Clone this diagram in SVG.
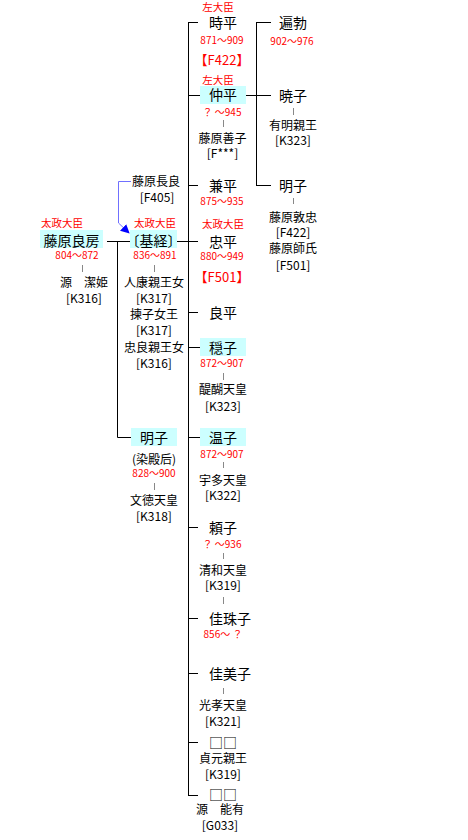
<svg xmlns="http://www.w3.org/2000/svg" width="468" height="840" viewBox="0 0 468 840">
<style>
text{font-family:"Noto Sans CJK JP","Noto Sans",sans-serif;}
.n{font-size:14px;fill:#000;}
.s{font-size:12px;fill:#000;text-anchor:middle;}
.r{font-size:10px;fill:#ff0000;text-anchor:middle;}
.t{font-size:10.5px;fill:#ff0000;text-anchor:middle;}
.f{font-size:13px;fill:#ff0000;text-anchor:middle;}
.c{text-anchor:middle;}
.box{fill:#ccffff;}
.ln{stroke:#000;stroke-width:1;fill:none;}
.g{stroke:#888;stroke-width:1;fill:none;}
</style>
<defs>
<marker id="ah" viewBox="0 0 10 10" refX="9" refY="5" markerWidth="9" markerHeight="9" markerUnits="userSpaceOnUse" orient="auto">
<path d="M0,0 L10,5 L0,10 z" fill="#0000ff"/>
</marker>
</defs>
<rect width="468" height="840" fill="#fff"/>
<g id="connectors">
<path class="ln" d="M188.5,22.5 V795.5"/>
<path class="ln" d="M188,22.5 H198 M188,95.5 H200 M188,185.5 H198 M177,241.5 H198 M188,312.5 H198 M188,347.5 H200 M188,437.5 H200 M188,527.5 H198 M188,618.5 H198 M188,673.5 H198 M188,742.5 H198 M188,795.5 H198"/>
<path class="ln" d="M256.5,22.5 V185.5 M256,22.5 H271 M246,95.5 H271 M256,185.5 H271"/>
<path class="ln" d="M107,241.5 H130 M117.5,241.5 V437.5 H131"/>
<path d="M131,181.5 H118.5 V223 L129,233" fill="none" stroke="#7070ff" stroke-width="1" marker-end="url(#ah)"/>
<path class="g" d="M82.5,265 V272 M154.5,265 V272 M154.5,483 V490 M223.5,120 V127 M223.5,373 V380 M223.5,462 V468 M223.5,553 V559 M223.5,597 V604 M223.5,688 V694 M293.5,108 V115 M293.5,198 V204"/>
</g>
<g id="tokihira">
<text class="t" x="218" y="11">左大臣</text>
<text class="n" x="209" y="28">時平</text>
<text class="r" x="222" y="44">871～909</text>
<text class="f" x="222" y="65">【F422】</text>
</g>
<g id="atsutada">
<text class="n" x="279" y="28">遍勃</text>
<text class="r" x="292" y="45">902～976</text>
</g>
<g id="nakahira">
<text class="t" x="218" y="84">左大臣</text>
<rect class="box" x="200" y="86" width="46" height="18"/>
<text class="n c" x="223" y="100">仲平</text>
<text class="r" x="222" y="116">？ ～945</text>
<text class="s" x="222.5" y="143">藤原善子</text>
<text class="s" x="222.5" y="158">[F***]</text>
</g>
<g id="akiko1">
<text class="n" x="279" y="101">暁子</text>
<text class="s" x="293" y="130">有明親王</text>
<text class="s" x="293" y="145">[K323]</text>
</g>
<g id="kanehira">
<text class="n" x="209" y="191">兼平</text>
<text class="r" x="222" y="205">875～935</text>
</g>
<g id="akiko2">
<text class="n" x="279" y="191">明子</text>
<text class="s" x="293" y="222">藤原敦忠</text>
<text class="s" x="293" y="237">[F422]</text>
<text class="s" x="293" y="253">藤原師氏</text>
<text class="s" x="293" y="270">[F501]</text>
</g>
<g id="nagara">
<text class="s" x="156" y="186">藤原長良</text>
<text class="s" x="157" y="202">[F405]</text>
</g>
<g id="yoshifusa">
<text class="t" x="62" y="227">太政大臣</text>
<rect class="box" x="40" y="230" width="63" height="18"/>
<text class="n c" x="71.5" y="246">藤原良房</text>
<text class="r" x="77" y="259">804～872</text>
<text class="s" x="84" y="287">源　潔姫</text>
<text class="s" x="84" y="303">[K316]</text>
</g>
<g id="mototsune">
<text class="t" x="155" y="227">太政大臣</text>
<rect class="box" x="130" y="230" width="47" height="18"/>
<text class="n c" x="153.5" y="246">〔基経〕</text>
<text class="r" x="155" y="259">836～891</text>
<text class="s" x="154" y="287">人康親王女</text>
<text class="s" x="154" y="303">[K317]</text>
<text class="s" x="154" y="319">揀子女王</text>
<text class="s" x="154" y="335">[K317]</text>
<text class="s" x="154" y="352">忠良親王女</text>
<text class="s" x="154" y="368">[K316]</text>
</g>
<g id="tadahira">
<text class="t" x="223" y="228">太政大臣</text>
<text class="n" x="209" y="247">忠平</text>
<text class="r" x="222" y="260">880～949</text>
<text class="f" x="222" y="282">【F501】</text>
</g>
<g id="yoshihira">
<text class="n" x="209" y="318">良平</text>
</g>
<g id="onshi">
<rect class="box" x="200" y="338" width="46" height="18"/>
<text class="n c" x="223" y="353">穏子</text>
<text class="r" x="222" y="367">872～907</text>
<text class="s" x="223" y="394">醍醐天皇</text>
<text class="s" x="223" y="411">[K323]</text>
</g>
<g id="akiko3">
<rect class="box" x="131" y="428" width="46" height="18"/>
<text class="n c" x="154" y="443">明子</text>
<text class="s" x="154" y="464">(染殿后)</text>
<text class="r" x="154" y="477">828～900</text>
<text class="s" x="154" y="505">文徳天皇</text>
<text class="s" x="154" y="521">[K318]</text>
</g>
<g id="onshi2">
<rect class="box" x="200" y="428" width="46" height="18"/>
<text class="n c" x="223" y="443">温子</text>
<text class="r" x="222" y="458">872～907</text>
<text class="s" x="223" y="485">宇多天皇</text>
<text class="s" x="223" y="500">[K322]</text>
</g>
<g id="yoriko">
<text class="n" x="209" y="533">頼子</text>
<text class="r" x="222" y="548">？ ～936</text>
<text class="s" x="223" y="575">清和天皇</text>
<text class="s" x="223" y="590">[K319]</text>
</g>
<g id="kashuko">
<text class="n" x="209" y="624">佳珠子</text>
<text class="r" x="223" y="638">856～ ？</text>
</g>
<g id="kamiko">
<text class="n" x="209" y="679">佳美子</text>
<text class="s" x="223" y="710">光孝天皇</text>
<text class="s" x="223" y="726">[K321]</text>
</g>
<g id="unknown1">
<text class="n" x="209" y="748">□□</text>
<text class="s" x="223" y="763">貞元親王</text>
<text class="s" x="223" y="779">[K319]</text>
</g>
<g id="unknown2">
<text class="n" x="209" y="800">□□</text>
<text class="s" x="220" y="814">源　能有</text>
<text class="s" x="220" y="830">[G033]</text>
</g>
</svg>
